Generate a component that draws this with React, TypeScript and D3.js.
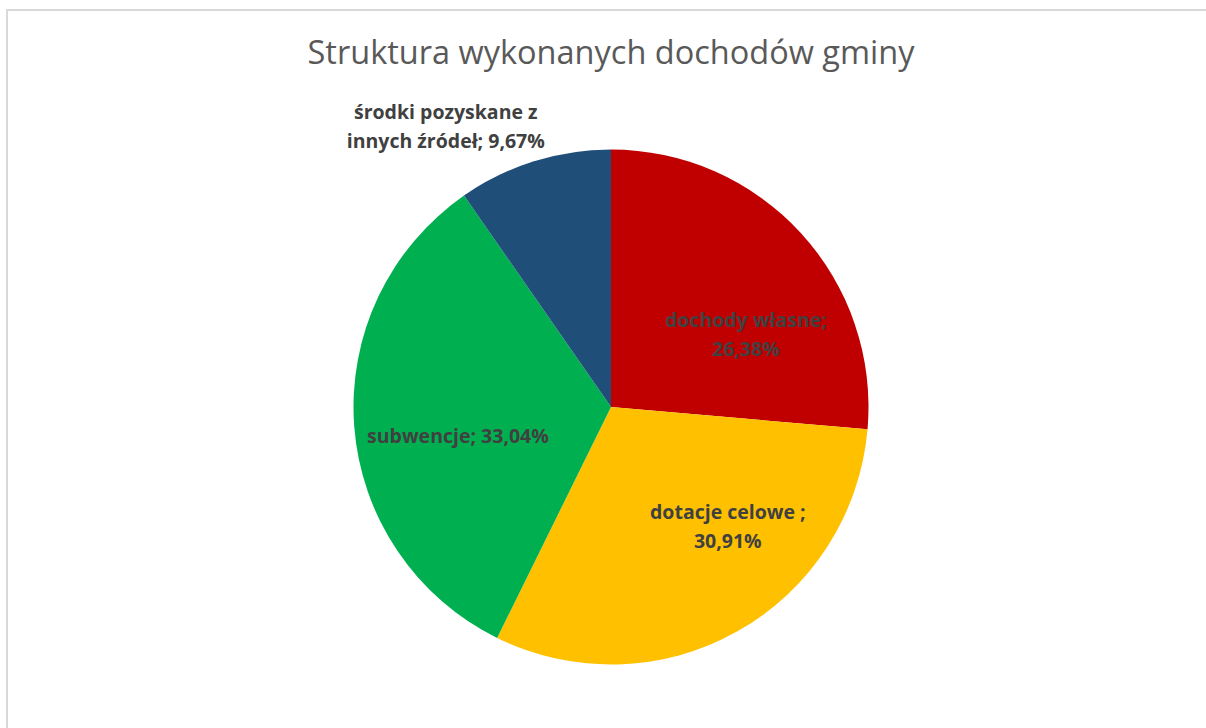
import React from 'react';
import { pie, arc, format } from 'd3';

// categories and their shares (percent), clockwise from 12 o'clock
const categories = [
  'dochody własne',
  'dotacje celowe ',
  'subwencje',
  'środki pozyskane z innych źródeł',
];
const shares = [26.38, 30.91, 33.04, 9.67];
const colors = ['#C00000', '#FFC000', '#00B050', '#1F4E79'];

// where the label text wraps (index of word after which to break, -1 = no break)
const labelBreaks = [1, 2, -1, 2];

// Excel "best fit" nudges from the arc centroid
const labelNudge: [number, number][] = [
  [21, 32],
  [41, -15],
  [1, 17],
  [-119, -133],
];

const W = 1206;
const H = 728;
const cx = 611;
const cy = 407;
const R = 257.5;

const fmt = format('.2f');

const App = () => {
  const data = categories.map((name, i) => ({ name, value: shares[i], color: colors[i] }));

  const slices = pie<any>()
    .sort(null)
    .value((d) => d.value)(data);

  const sliceArc = arc<any>().innerRadius(0).outerRadius(R);
  const labelArc = arc<any>().innerRadius(R * 0.6).outerRadius(R * 0.6);

  const lineHeight = 29.5;

  return (
    <div style={{ position: 'absolute', left: 0, top: 0 }}>
      <svg width={W} height={H} style={{ display: 'block' }}>
        <rect x={0} y={0} width={W} height={H} fill="#fff" />
        <rect x={7} y={10} width={W + 10} height={H + 10} fill="none" stroke="#D9D9D9" strokeWidth={2} />
        <text
          x={cx}
          y={64}
          textAnchor="middle"
          fontFamily="'Open Sans', 'Noto Sans', sans-serif"
          fontSize={32.5}
          fill="#595959"
        >
          Struktura wykonanych dochodów gminy
        </text>
        <g transform={`translate(${cx},${cy})`}>
          {slices.map((s, i) => (
            <path key={i} d={sliceArc(s) as string} fill={s.data.color} />
          ))}
          {slices.map((s, i) => {
            const [lx, ly] = labelArc.centroid(s);
            const x = lx + labelNudge[i][0];
            const y = ly + labelNudge[i][1];
            const full = `${s.data.name}; ${fmt(s.data.value).replace('.', ',')}%`;
            const words = full.split(' ');
            const b = labelBreaks[i];
            const lines =
              b < 0 ? [full] : [words.slice(0, b + 1).join(' '), words.slice(b + 1).join(' ')];
            return (
              <text
                key={'l' + i}
                x={x}
                textAnchor="middle"
                fontFamily="'Open Sans', 'Noto Sans', sans-serif"
                fontWeight="bold"
                fontSize={19.5}
                fill="#404040"
              >
                {lines.map((ln, j) => (
                  <tspan key={j} x={x} y={y + (j - (lines.length - 1) / 2) * lineHeight + 7}>
                    {ln}
                  </tspan>
                ))}
              </text>
            );
          })}
        </g>
      </svg>
    </div>
  );
};

export default App;
